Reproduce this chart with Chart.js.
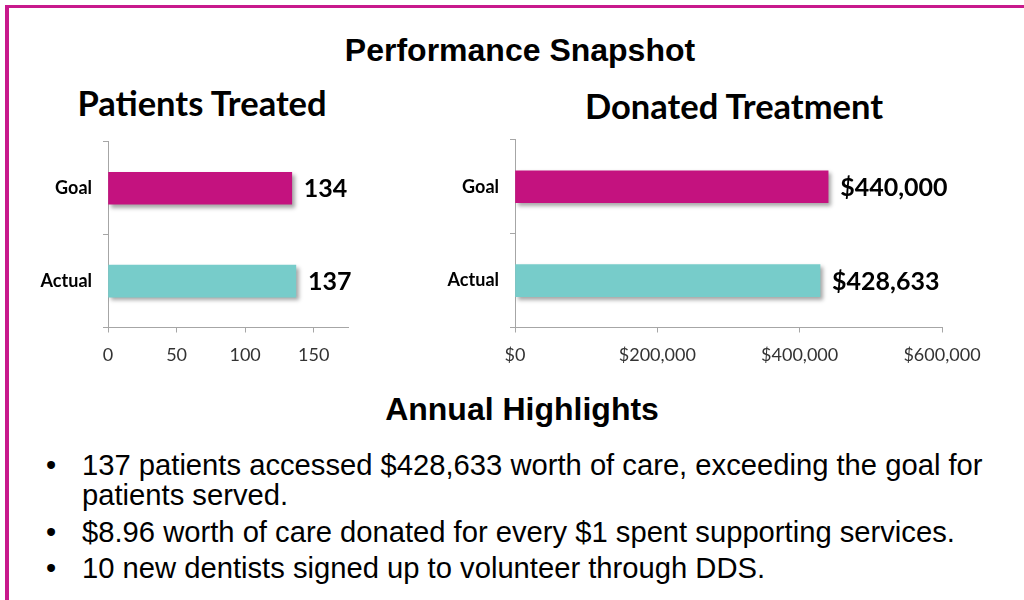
<!DOCTYPE html>
<html>
<head>
<meta charset="utf-8">
<script src="https://cdn.jsdelivr.net/npm/chart.js@4.4.1/dist/chart.umd.min.js"></script>
<style>
  html, body { margin: 0; padding: 0; background: #fff; }
  body { width: 1024px; height: 600px; position: relative; overflow: hidden; }
  .frame { position: absolute; left: 5px; top: 5px; width: 1100px; height: 700px;
           border-left: 4px solid #C8198C; border-top: 3px solid #C8198C; }
  .title { position: absolute; font-family: "Liberation Sans", Arial, sans-serif; font-weight: bold;
           font-size: 32px; line-height: 32px; white-space: nowrap; color: #000; transform: translateX(-50%); }
  .subtitle { position: absolute; font-family: Lato, sans-serif; font-weight: bold; font-size: 34.5px;
              line-height: 34px; white-space: nowrap; color: #000; transform: translateX(-50%); }
  canvas { position: absolute; }
  .line { position: absolute; left: 82px; font-family: "Liberation Sans", Arial, sans-serif; font-size: 29.2px;
          line-height: 30px; white-space: nowrap; color: #000; }
  .dot { position: absolute; left: 46px; font-family: "Liberation Sans", Arial, sans-serif; font-size: 29px;
         line-height: 30px; color: #000; }
</style>
</head>
<body>
<div class="frame"></div>
<div class="title" style="left:520px; top:34px;">Performance Snapshot</div>
<div class="subtitle" style="left:202px; top:86px;">Patients Treated</div>
<div class="subtitle" style="left:734px; top:89px;">Donated Treatment</div>
<canvas id="patients" width="400" height="250" style="left:0; top:120px;"></canvas>
<canvas id="donated" width="600" height="250" style="left:420px; top:117.5px;"></canvas>
<div class="title" style="left:522px; top:393px;">Annual Highlights</div>

<div class="dot" style="top:450px;">•</div>
<div class="line" style="top:450px;">137 patients accessed $428,633 worth of care, exceeding the goal for</div>
<div class="line" style="top:480px;">patients served.</div>
<div class="dot" style="top:517px;">•</div>
<div class="line" style="top:517px;">$8.96 worth of care donated for every $1 spent supporting services.</div>
<div class="dot" style="top:553px;">•</div>
<div class="line" style="top:553px;">10 new dentists signed up to volunteer through DDS.</div>

<script>
const categories = ['Goal', 'Actual'];
const barColors = ['#C4127F', '#77CCCA'];
const patientsValues = [134, 137];
const patientsTicks = [0, 50, 100, 150];
const donatedValues = [440000, 428633];
const donatedTicks = [0, 200000, 400000, 600000];

const axisColor = '#A6A6A6';

// soft drop shadow under the bars
const barShadow = {
  id: 'barShadow',
  beforeDatasetsDraw(chart) {
    const ctx = chart.ctx;
    ctx.save();
    ctx.shadowColor = 'rgba(0, 0, 0, 0.35)';
    ctx.shadowBlur = 4;
    ctx.shadowOffsetX = 3;
    ctx.shadowOffsetY = 3;
  },
  afterDatasetsDraw(chart) {
    chart.ctx.restore();
  }
};

// value printed at the end of each bar
const valueLabels = {
  id: 'valueLabels',
  afterDatasetsDraw(chart, args, opts) {
    const ctx = chart.ctx;
    const values = chart.data.datasets[0].data;
    ctx.save();
    ctx.font = 'bold 25px Lato';
    ctx.fillStyle = '#000';
    ctx.textAlign = 'left';
    ctx.textBaseline = 'middle';
    chart.getDatasetMeta(0).data.forEach((bar, i) => {
      ctx.fillText(opts.format(values[i]), bar.x + 12, bar.y + 1);
    });
    ctx.restore();
  }
};

function money(v) {
  return '$' + v.toLocaleString('en-US');
}

function makeChart(id, values, ticks, max, yWidth, padding, format) {
  return new Chart(document.getElementById(id), {
    type: 'bar',
    data: {
      labels: categories,
      datasets: [{
        data: values,
        backgroundColor: barColors,
        barThickness: 32
      }]
    },
    options: {
      indexAxis: 'y',
      responsive: false,
      animation: false,
      devicePixelRatio: 1,
      layout: { padding: padding },
      plugins: {
        legend: { display: false },
        tooltip: { enabled: false },
        valueLabels: { format: format }
      },
      scales: {
        x: {
          min: 0,
          max: max,
          ticks: {
            color: '#333',
            padding: 12,
            font: { family: 'Lato', size: 18 },
            callback: v => format(v)
          },
          afterBuildTicks: axis => {
            axis.ticks = ticks.map(v => ({ value: v }));
          },
          afterFit: scale => { scale.height = 40; },
          grid: { drawOnChartArea: false, tickLength: 5, color: axisColor },
          border: { color: axisColor }
        },
        y: {
          ticks: {
            color: '#000',
            padding: 11,
            font: { family: 'Lato', size: 18, weight: 'bold' }
          },
          afterFit: scale => { scale.width = yWidth; },
          grid: { drawOnChartArea: false, offset: true, tickLength: 5, color: axisColor },
          border: { color: axisColor }
        }
      }
    },
    plugins: [barShadow, valueLabels]
  });
}

makeChart('patients', patientsValues, patientsTicks, 175, 108,
  { top: 0, right: 52, bottom: 2.5, left: 0 }, v => String(v));
makeChart('donated', donatedValues, donatedTicks, 600000, 95,
  { top: 0, right: 78, bottom: 0.5, left: 0 }, money);
</script>
</body>
</html>
